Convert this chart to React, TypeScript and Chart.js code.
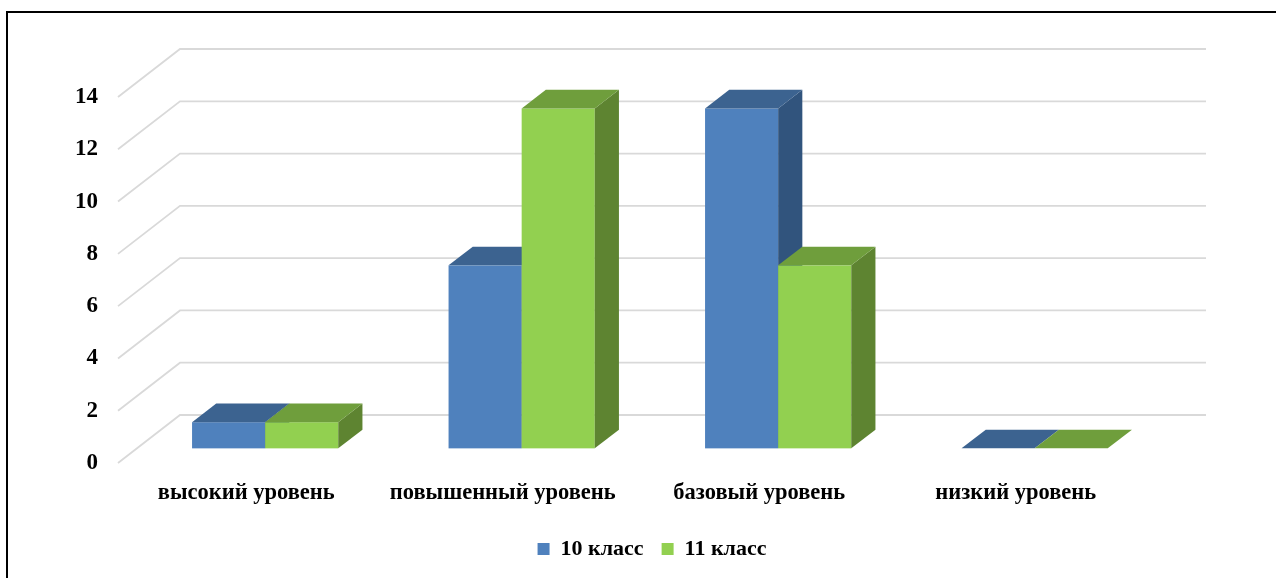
import React, { useEffect, useRef } from "react";
import { Chart, registerables } from "chart.js";

Chart.register(...registerables);

const categories = ["высокий уровень", "повышенный уровень", "базовый уровень", "низкий уровень"];
const seriesNames = ["10 класс", "11 класс"];
const grade10 = [1, 7, 13, 0];
const grade11 = [1, 13, 7, 0];
const yTicksMax = 14;
const yTickStep = 2;

const FRONT_COLORS = ["#4F81BD", "#92D050"];
const TOP_COLORS = ["#3C6390", "#6F9E3C"];
const SIDE_COLORS = ["#31547D", "#5E8431"];

const DEPTH_X = 62;
const DEPTH_Y = 48;
const BAR_FRONT = 0.305;
const BAR_DEPTH = 0.39;
const FONT = "'Liberation Serif', 'Times New Roman', serif";

const threeD = {
  id: "threeD",
  beforeDatasetsDraw(chart: any) {
    const { ctx, chartArea, scales } = chart;
    const y = scales.y;
    ctx.save();
    // back wall gridlines + side wall diagonals
    ctx.strokeStyle = "#D9D9D9";
    ctx.lineWidth = 1.8;
    y.ticks.forEach((t: any) => {
      const py = y.getPixelForValue(t.value);
      ctx.beginPath();
      ctx.moveTo(chartArea.left, py);
      ctx.lineTo(chartArea.left + DEPTH_X, py - DEPTH_Y);
      ctx.lineTo(chartArea.right + DEPTH_X, py - DEPTH_Y);
      ctx.stroke();
    });
    // bars
    const fx = BAR_FRONT * DEPTH_X;
    const fy = BAR_FRONT * DEPTH_Y;
    const bdx = BAR_DEPTH * DEPTH_X;
    const bdy = BAR_DEPTH * DEPTH_Y;
    const metas = chart.data.datasets.map((_: any, i: number) => chart.getDatasetMeta(i));
    for (let c = 0; c < categories.length; c++) {
      metas.forEach((meta: any, di: number) => {
        const el = meta.data[c];
        if (!el) return;
        const p = el.getProps(["x", "y", "base", "width"], true);
        const x0 = p.x - p.width / 2 + fx;
        const x1 = p.x + p.width / 2 + fx;
        const yt = Math.min(p.y, p.base) - fy;
        const yb = Math.max(p.y, p.base) - fy;
        ctx.fillStyle = FRONT_COLORS[di];
        ctx.fillRect(x0, yt, x1 - x0, yb - yt);
        ctx.fillStyle = SIDE_COLORS[di];
        ctx.beginPath();
        ctx.moveTo(x1, yt);
        ctx.lineTo(x1 + bdx, yt - bdy);
        ctx.lineTo(x1 + bdx, yb - bdy);
        ctx.lineTo(x1, yb);
        ctx.closePath();
        ctx.fill();
        ctx.fillStyle = TOP_COLORS[di];
        ctx.beginPath();
        ctx.moveTo(x0, yt);
        ctx.lineTo(x0 + bdx, yt - bdy);
        ctx.lineTo(x1 + bdx, yt - bdy);
        ctx.lineTo(x1, yt);
        ctx.closePath();
        ctx.fill();
      });
    }
    ctx.restore();
    return false;
  },
};

export default function App() {
  const ref = useRef<HTMLCanvasElement>(null);
  useEffect(() => {
    if (!ref.current) return;
    const chart = new Chart(ref.current, {
      type: "bar",
      data: {
        labels: categories,
        datasets: [
          { label: seriesNames[0], data: grade10, backgroundColor: FRONT_COLORS[0], borderWidth: 0 },
          { label: seriesNames[1], data: grade11, backgroundColor: FRONT_COLORS[1], borderWidth: 0 },
        ],
      },
      options: {
        responsive: false,
        animation: false,
        devicePixelRatio: 1,
        layout: { padding: { left: 28, right: 0, top: 97, bottom: 8 } },
        datasets: { bar: { categoryPercentage: 0.57, barPercentage: 1 } },
        plugins: {
          tooltip: { enabled: false },
          legend: {
            position: "bottom",
            labels: {
              boxWidth: 12,
              boxHeight: 12,
              padding: 18,
              color: "#000",
              font: { family: FONT, size: 22, weight: "bold" },
            },
          },
        },
        scales: {
          x: {
            grid: { display: false, drawTicks: false },
            border: { display: false },
            ticks: {
              padding: 17,
              color: "#000",
              autoSkip: false,
              maxRotation: 0,
              font: { family: FONT, size: 22.5, weight: "bold" },
            },
            afterFit: (s: any) => { s.height = 57; },
          },
          y: {
            min: 0,
            max: yTicksMax,
            grid: { display: false, drawTicks: false },
            border: { display: false },
            ticks: {
              stepSize: yTickStep,
              padding: 20,
              color: "#000",
              font: { family: FONT, size: 23, weight: "bold" },
            },
            afterFit: (s: any) => { s.width = 90; },
          },
          y2: {
            type: "linear",
            position: "right",
            display: true,
            grid: { display: false, drawTicks: false },
            border: { display: false },
            ticks: { display: false },
            afterFit: (s: any) => { s.width = 132; },
          },
        },
      },
      plugins: [threeD],
    } as any);
    return () => chart.destroy();
  }, []);
  return (
    <div style={{ position: "fixed", left: 0, top: 0, width: 1276, height: 578, overflow: "hidden", background: "#fff" }}>
      <canvas ref={ref} width={1276} height={578} style={{ position: "absolute", left: 0, top: 0, width: 1276, height: 578 }} />
      <div style={{ position: "absolute", left: 6, top: 11, width: 1400, height: 700, border: "2px solid #000", boxSizing: "border-box", pointerEvents: "none" }} />
    </div>
  );
}
